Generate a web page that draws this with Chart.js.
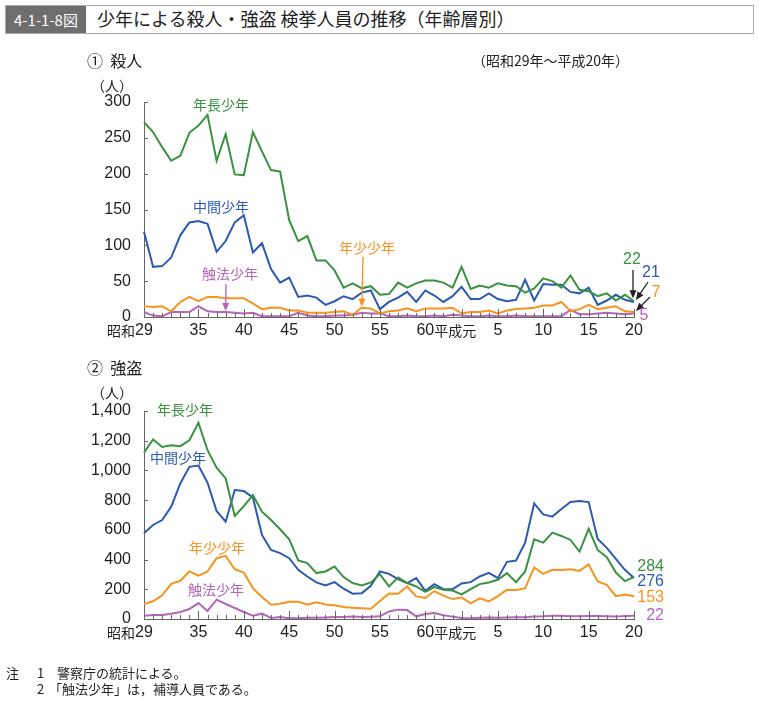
<!DOCTYPE html>
<html>
<head>
<meta charset="utf-8">
<script src="https://cdn.jsdelivr.net/npm/chart.js@4.4.0/dist/chart.umd.min.js"></script>
<style>
  body { margin: 0; width: 759px; height: 701px; position: relative; background: #fff; overflow: hidden;
         font-family: "Liberation Sans", "Noto Sans CJK JP", sans-serif; color: #222; }
  canvas { position: absolute; left: 0; top: 0; }
  .t { position: absolute; white-space: nowrap; line-height: 1; }
  .jp { font-family: "Noto Sans CJK JP", sans-serif; }
  #bar { position: absolute; left: 5px; top: 5px; width: 747px; height: 27px; border: 1px solid #a9a9a9; background: #fff; }
  #fig { position: absolute; left: 0; top: 0; width: 80px; height: 27px; background: #6e6e6e; color: #fff;
         font-size: 15px; line-height: 27px; text-align: center; }
</style>
</head>
<body>
<canvas id="murder" width="759" height="701"></canvas>
<canvas id="robbery" width="759" height="701"></canvas>

<div id="bar"><div id="fig" class="jp">4-1-1-8図</div></div>
<div class="t jp" style="left:97px;top:9px;font-size:18px">少年による殺人・強盗 検挙人員の推移（年齢層別）</div>

<div class="t jp" style="left:87px;top:52px;font-size:16px">①&nbsp;&nbsp;殺人</div>
<div class="t jp" style="left:472px;top:53px;font-size:14px">（昭和29年～平成20年）</div>
<div class="t jp" style="left:91px;top:78px;font-size:14px">（人）</div>

<div class="t jp" style="left:87px;top:359px;font-size:16px">②&nbsp;&nbsp;強盗</div>
<div class="t jp" style="left:91px;top:385px;font-size:14px">（人）</div>

<div class="t jp" style="left:6px;top:666px;font-size:13px">注</div>
<div class="t jp" style="left:37px;top:666px;font-size:13px">1</div>
<div class="t jp" style="left:57px;top:666px;font-size:13px">警察庁の統計による。</div>
<div class="t jp" style="left:37px;top:682px;font-size:13px">2</div>
<div class="t jp" style="left:49px;top:682px;font-size:13px">「触法少年」は，補導人員である。</div>

<script>
const FONT = '"Liberation Sans", "Noto Sans CJK JP", sans-serif'
const JP = '"Noto Sans CJK JP", sans-serif'

// 昭和29年(1954) ～ 平成20年(2008)
const years = []
for (let y = 1954; y <= 2008; y++) years.push(y)

const xTickIndex = [0, 6, 11, 16, 21, 26, 31, 39, 44, 49, 54]
const xTickLabel = ['昭和29', '35', '40', '45', '50', '55', '60平成元', '5', '10', '15', '20']
const majorTickIndex = [6, 11, 16, 21, 26, 31, 35, 39, 44, 49, 54]

const seriesNames = ['年長少年', '中間少年', '年少少年', '触法少年']
const seriesColors = ['#3a9140', '#2c5ab2', '#f7931e', '#b466b8']

// ① 殺人
const murderOlder = [272, 258, 237, 218, 225, 257, 267, 282, 218, 255, 199, 198, 258, 231, 205, 203, 135, 106, 113, 79,
  79, 65, 41, 47, 40, 43, 31, 32, 48, 41, 47, 51, 51, 48, 41, 70, 39, 44, 41, 47,
  44, 43, 34, 40, 54, 50, 41, 58, 38, 36, 29, 33, 23, 31, 22]
const murderMiddle = [119, 70, 71, 83, 114, 132, 134, 130, 91, 106, 132, 142, 90, 103, 67, 48, 55, 28, 30, 27,
  17, 22, 29, 25, 34, 37, 11, 21, 27, 35, 21, 37, 30, 21, 29, 42, 25, 25, 33, 25,
  22, 24, 52, 23, 46, 45, 45, 35, 33, 41, 17, 23, 31, 24, 21]
const murderYounger = [15, 14, 15, 8, 21, 28, 22, 28, 28, 26, 26, 26, 19, 11, 13, 13, 9, 9, 6, 6,
  6, 7, 8, 3, 13, 12, 5, 8, 9, 12, 8, 12, 12, 12, 13, 5, 7, 7, 9, 5,
  9, 11, 12, 13, 16, 16, 21, 8, 11, 17, 11, 13, 15, 8, 7]
const murderUnder14 = [7, 2, 1, 7, 7, 7, 15, 8, 7, 7, 6, 5, 6, 1, 1, 1, 1, 6, 2, 1,
  1, 2, 2, 3, 6, 5, 5, 1, 1, 2, 1, 1, 2, 1, 3, 2, 1, 1, 2, 1,
  1, 2, 1, 1, 1, 1, 1, 10, 4, 4, 5, 6, 5, 4, 5]

// ② 強盗
const robberyOlder = [1120, 1208, 1158, 1170, 1163, 1203, 1320, 1136, 1018, 946, 693, 760, 834, 722, 666, 604, 537, 394, 376, 309,
  320, 353, 282, 242, 226, 246, 302, 219, 280, 242, 219, 183, 215, 197, 192, 165, 201, 235, 246, 264,
  309, 248, 320, 537, 514, 581, 559, 532, 454, 606, 465, 416, 313, 255, 284]
const robberyMiddle = [577, 633, 666, 756, 912, 1024, 1033, 917, 727, 655, 868, 861, 818, 566, 465, 443, 409, 331, 286, 246,
  226, 248, 204, 170, 174, 224, 320, 304, 268, 242, 275, 190, 235, 201, 201, 239, 248, 286, 311, 275,
  385, 394, 514, 778, 704, 689, 740, 787, 794, 787, 539, 479, 405, 331, 276]
const robberyYounger = [100, 119, 159, 237, 257, 320, 291, 320, 409, 425, 335, 313, 208, 148, 96, 103, 116, 116, 96, 112,
  98, 92, 81, 76, 72, 69, 121, 172, 170, 219, 152, 141, 188, 157, 134, 145, 105, 139, 119, 154,
  197, 195, 206, 347, 304, 331, 329, 335, 324, 367, 253, 230, 154, 165, 153]
const robberyUnder14 = [22, 27, 27, 36, 47, 67, 107, 54, 130, 101, 74, 47, 22, 36, 7, 13, 5, 5, 8, 8,
  10, 13, 14, 16, 13, 15, 18, 51, 63, 60, 18, 34, 40, 25, 16, 7, 5, 8, 10, 8,
  10, 12, 12, 16, 18, 22, 22, 18, 18, 20, 20, 18, 16, 20, 22]

function arrow(ctx, x1, y1, x2, y2, color) {
  const a = Math.atan2(y2 - y1, x2 - x1)
  ctx.strokeStyle = color
  ctx.fillStyle = color
  ctx.lineWidth = 1.3
  ctx.beginPath()
  ctx.moveTo(x1, y1)
  ctx.lineTo(x2 - 6 * Math.cos(a), y2 - 6 * Math.sin(a))
  ctx.stroke()
  ctx.beginPath()
  ctx.moveTo(x2, y2)
  ctx.lineTo(x2 - 8 * Math.cos(a) + 3.5 * Math.sin(a), y2 - 8 * Math.sin(a) - 3.5 * Math.cos(a))
  ctx.lineTo(x2 - 8 * Math.cos(a) - 3.5 * Math.sin(a), y2 - 8 * Math.sin(a) + 3.5 * Math.cos(a))
  ctx.closePath()
  ctx.fill()
}

const decor = {
  id: 'decor',
  afterDatasetsDraw(chart, args, o) {
    const ctx = chart.ctx
    const x = chart.scales.x
    const y = chart.scales.y
    const base = y.getPixelForValue(0)
    ctx.save()

    // tick marks (inside)
    ctx.strokeStyle = '#666'
    ctx.lineWidth = 1
    ctx.beginPath()
    years.forEach((yr, i) => {
      const px = Math.round(x.getPixelForValue(i)) + 0.5
      const len = majorTickIndex.includes(i) ? 8 : 4
      ctx.moveTo(px, base)
      ctx.lineTo(px, base - len)
    })
    y.ticks.forEach(t => {
      const py = Math.round(y.getPixelForValue(t.value)) + 0.5
      ctx.moveTo(x.left, py)
      ctx.lineTo(x.left + 4, py)
    })
    ctx.stroke()

    // x labels: number centred on its tick
    ctx.fillStyle = '#222'
    ctx.textBaseline = 'middle'
    xTickIndex.forEach((idx, k) => {
      const m = xTickLabel[k].match(/^(\D*)(\d+)(\D*)$/)
      const px = x.getPixelForValue(idx)
      const py = base + 14
      ctx.font = '16px ' + FONT
      const w = ctx.measureText(m[2]).width
      ctx.textAlign = 'center'
      ctx.fillText(m[2], px, py)
      ctx.font = '14px ' + JP
      ctx.textAlign = 'right'
      ctx.fillText(m[1], px - w / 2, py)
      ctx.textAlign = 'left'
      ctx.fillText(m[3], px + w / 2, py)
    })

    // series names
    ctx.font = '14px ' + JP
    ctx.textAlign = 'center'
    o.names.forEach(n => {
      ctx.fillStyle = seriesColors[n.i]
      ctx.fillText(seriesNames[n.i], n.x, n.y)
      if (n.to !== undefined) {
        const p = chart.getDatasetMeta(n.i).data[n.to]
        arrow(ctx, n.ax, n.ay, p.x, p.y - 1, seriesColors[n.i])
      }
    })

    // last values
    ctx.font = '16px ' + FONT
    o.ends.forEach(e => {
      const data = chart.data.datasets[e.i].data
      ctx.fillStyle = seriesColors[e.i]
      ctx.textAlign = e.align || 'center'
      ctx.fillText(String(data[data.length - 1]), e.x, e.y)
      if (e.ax !== undefined) {
        const p = chart.getDatasetMeta(e.i).data[data.length - 1]
        arrow(ctx, e.ax, e.ay, p.x + e.dx, p.y + e.dy, '#222')
      }
    })
    ctx.restore()
  }
}

function makeChart(id, series, yMax, step, padTop, padBottom, decorOpts) {
  new Chart(document.getElementById(id), {
    type: 'line',
    data: {
      labels: years,
      datasets: series.map((d, i) => ({
        label: seriesNames[i],
        data: d,
        borderColor: seriesColors[i],
        borderWidth: 2,
        pointRadius: 0,
        tension: 0,
        fill: false,
      })),
    },
    options: {
      responsive: false,
      animation: false,
      devicePixelRatio: 1,
      layout: { padding: { left: 84, right: 125, top: padTop, bottom: padBottom } },
      plugins: {
        legend: { display: false },
        tooltip: { enabled: false },
        decor: decorOpts,
      },
      scales: {
        x: {
          type: 'category',
          offset: false,
          ticks: { display: false },
          grid: { display: false, drawTicks: false },
          border: { display: true, color: '#666', width: 1 },
          afterFit(s) { s.height = 0 },
        },
        y: {
          min: 0,
          max: yMax,
          ticks: {
            stepSize: step,
            padding: 13,
            color: '#222',
            font: { family: FONT, size: 16 },
            callback: v => v.toLocaleString('en-US'),
          },
          grid: { display: false, drawTicks: false },
          border: { display: true, color: '#666', width: 1 },
          afterFit(s) { s.width = 60 },
        },
      },
    },
    plugins: [decor],
  })
}

makeChart('murder', [murderOlder, murderMiddle, murderYounger, murderUnder14], 300, 50, 102, 384, {
  names: [
    { i: 0, x: 221, y: 105 },
    { i: 1, x: 221, y: 207 },
    { i: 2, x: 367, y: 248, ax: 363, ay: 257, to: 24 },
    { i: 3, x: 230, y: 274, ax: 226, ay: 284, to: 9 },
  ],
  ends: [
    { i: 0, x: 632, y: 260, ax: 633, ay: 270, dx: -1, dy: -3 },
    { i: 1, x: 651, y: 273, ax: 648, ay: 282, dx: 2, dy: -2 },
    { i: 2, x: 656, y: 293, ax: 650, ay: 297, dx: 2, dy: -1 },
    { i: 3, x: 644, y: 316 },
  ],
})

makeChart('robbery', [robberyOlder, robberyMiddle, robberyYounger, robberyUnder14], 1400, 200, 411, 82, {
  names: [
    { i: 0, x: 185, y: 410 },
    { i: 1, x: 178, y: 458 },
    { i: 2, x: 217, y: 548 },
    { i: 3, x: 216, y: 590 },
  ],
  ends: [
    { i: 0, x: 664, y: 567, align: 'right' },
    { i: 1, x: 664, y: 582, align: 'right' },
    { i: 2, x: 664, y: 598, align: 'right' },
    { i: 3, x: 664, y: 616, align: 'right' },
  ],
})
</script>
</body>
</html>
